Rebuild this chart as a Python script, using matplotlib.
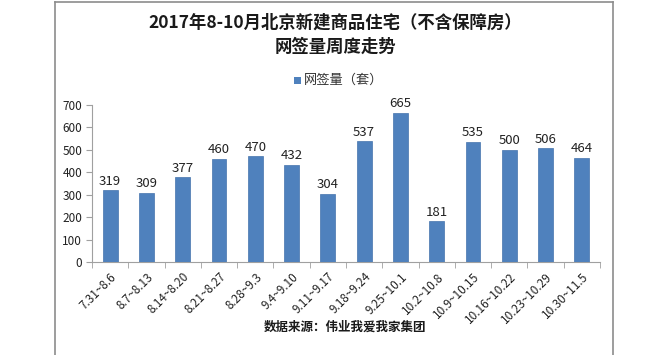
import matplotlib
matplotlib.use("Agg")
import matplotlib.pyplot as plt
import numpy as np
from matplotlib.patches import Rectangle
from matplotlib.lines import Line2D

plt.rcParams['font.family'] = ['Noto Sans CJK SC', 'DejaVu Sans']

categories = ["7.31~8.6", "8.7~8.13", "8.14~8.20", "8.21~8.27", "8.28~9.3",
              "9.4~9.10", "9.11~9.17", "9.18~9.24", "9.25~10.1", "10.2~10.8",
              "10.9~10.15", "10.16~10.22", "10.23~10.29", "10.30~11.5"]
values = [319, 309, 377, 460, 470, 432, 304, 537, 665, 181, 535, 500, 506, 464]
yticks = [0, 100, 200, 300, 400, 500, 600, 700]

W, H = 670, 355
fig = plt.figure(figsize=(W/100, H/100), dpi=100)

# outer frame (left, top, right)
fig.add_artist(Line2D([55/W, 55/W], [0, 1-2/H], transform=fig.transFigure, color='#8c8c8c', lw=1.2))
fig.add_artist(Line2D([55/W, 613/W], [1-2/H, 1-2/H], transform=fig.transFigure, color='#8c8c8c', lw=1.2))
fig.add_artist(Line2D([613/W, 613/W], [0, 1-2/H], transform=fig.transFigure, color='#8c8c8c', lw=1.2))

x0, x1 = 92, 600
y0, y1 = 262, 104.7
ax = fig.add_axes([x0/W, 1-y0/H, (x1-x0)/W, (y0-y1)/H])

x = np.arange(len(categories))
bars = ax.bar(x, values, width=0.41, color='#4F81BD', edgecolor='#4573ad', linewidth=0.5, zorder=3)
for xi, v in zip(x, values):
    ax.text(xi, v + 12, str(v), ha='center', va='bottom', fontsize=9.5, color='#222222')

ax.set_xlim(-0.5, len(categories)-0.5)
ax.set_ylim(0, 700)
ax.set_yticks(yticks)
ax.set_yticklabels([str(t) for t in yticks], fontsize=8.5, color='#222222')
ax.set_xticks(x)
ax.set_xticklabels(categories, rotation=45, ha='right', rotation_mode='anchor', fontsize=8.5, color='#222222')
ax.set_xticks(np.arange(-0.5, len(categories)), minor=True)
ax.tick_params(axis='x', which='major', length=0, pad=6)
ax.tick_params(axis='x', which='minor', length=4, color='#a0a0a0', direction='out')
ax.tick_params(axis='y', length=4, color='#a0a0a0', direction='out', pad=3)
for s in ['top', 'right']:
    ax.spines[s].set_visible(False)
ax.spines['left'].set_color('#a0a0a0')
ax.spines['bottom'].set_color('#a0a0a0')

# titles
fig.text(335/W, 1-23/H, "2017年8-10月北京新建商品住宅（不含保障房）", ha='center', va='center',
         fontsize=12.5, fontweight='bold', color='#1a1a1a')
fig.text(335/W, 1-47/H, "网签量周度走势", ha='center', va='center',
         fontsize=12.5, fontweight='bold', color='#1a1a1a')

# legend
fig.add_artist(Rectangle((294/W, 1-84/H), 7/W, 7/H, transform=fig.transFigure,
                         facecolor='#4F81BD', edgecolor='none'))
fig.text(304/W, 1-80/H, "网签量（套）", ha='left', va='center', fontsize=9.5, color='#333333')

# footer
fig.text(345/W, 1-327/H, "数据来源：伟业我爱我家集团", ha='center', va='center',
         fontsize=9, fontweight='bold', color='#1a1a1a')

fig.savefig("out.png", dpi=100, facecolor='white')
